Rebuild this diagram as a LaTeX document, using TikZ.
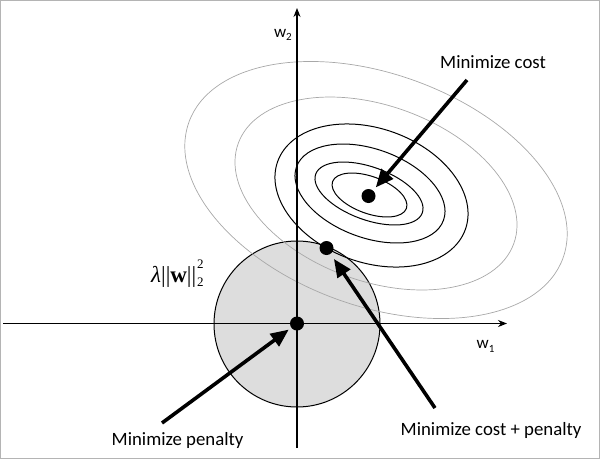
\documentclass[tikz,border=0pt]{standalone}
\usepackage{fontspec}
\setmainfont{Carlito}
\newfontfamily\tnr{Liberation Serif}
\usetikzlibrary{arrows.meta}
\definecolor{framegray}{HTML}{B4B4B4}
\definecolor{ellgray}{HTML}{A8A8A8}
\definecolor{circfill}{HTML}{DDDDDD}
\newcommand{\mysub}[1]{\raisebox{-0.45ex}{\fontsize{11}{12}\selectfont #1}}
\begin{document}
\begin{tikzpicture}[x=1pt,y=-1pt,
  lbl/.style={font=\fontsize{18.8}{22}\selectfont, inner sep=0pt},
  axlbl/.style={font=\fontsize{17}{20}\selectfont, inner sep=0pt},
  dot/.style={circle, fill=black, inner sep=0pt, minimum size=14pt},
  bigarrow/.style={line width=3.6pt, -{Triangle[length=18pt,width=15pt]}},
  axis/.style={line width=1.1pt, -{Stealth[length=9pt,width=7pt]}},
  blk/.style={line width=1pt, black},
  gry/.style={line width=0.7pt, ellgray}]
\path[use as bounding box] (0,0) rectangle (600,459);
\draw[framegray, line width=1pt] (0.5,0.5) rectangle (599.5,458.5);
% penalty disc
\draw[fill=circfill, line width=1pt] (297,324) circle[radius=83];
% cost contours
\draw[gry, rotate around={-20:(376,190)}] (376,190) ellipse[x radius=199, y radius=116];
\draw[gry, rotate around={-20:(376,193.5)}] (376,193.5) ellipse[x radius=146.6, y radius=87.7];
\draw[blk, rotate around={-20:(371.5,195.5)}] (371.5,195.5) ellipse[x radius=99.8, y radius=66.9];
\draw[blk, rotate around={-20:(370,193.5)}] (370,193.5) ellipse[x radius=78.2, y radius=44.3];
\draw[blk, rotate around={-20:(369,193.5)}] (369,193.5) ellipse[x radius=56.7, y radius=26.4];
\draw[blk, rotate around={-20:(369.5,195)}] (369.5,195) ellipse[x radius=39.3, y radius=18.5];
% axes
\coordinate (xl) at (3,323.5);
\coordinate (xr) at (507,323.5);
\coordinate (yb) at (297,448);
\coordinate (yt) at (297,8);
\draw[axis] (xl) -- (xr);
\draw[axis] (yb) -- (yt);
% dots
\node[dot] (o) at (297,323.5) {};
\node[dot] (c) at (368.5,196) {};
\node[dot] (m) at (326.5,248) {};
% arrows
\coordinate (sc) at (467,80);
\coordinate (sp) at (162,423);
\coordinate (sm) at (435,408);
\draw[bigarrow, shorten >=4pt] (sc) -- (c);
\draw[bigarrow, shorten >=3pt] (sp) -- (o);
\draw[bigarrow, shorten >=6pt] (sm) -- (m);
% labels
\node[lbl, anchor=base west] (lc) at (440,68) {Minimize cost};
\node[lbl, anchor=base west] (lcp) at (400.5,435) {Minimize cost + penalty};
\node[lbl, anchor=base west] (lp) at (111.5,445) {Minimize penalty};
\node[axlbl, anchor=base west] (w1) at (476.5,348.5) {w\mysub{1}};
\node[axlbl, anchor=base east] (w2) at (292,37) {w\mysub{2}};
\node[inner sep=0pt, anchor=base west, font=\fontsize{23}{26}\selectfont\tnr] (lam) at (151,282)
  {\textit{λ}||\textbf{w}||\kern1pt{\fontsize{13}{14}\selectfont\rlap{\raisebox{13.5pt}{2}}\raisebox{-4pt}{2}}};
\end{tikzpicture}
\end{document}
